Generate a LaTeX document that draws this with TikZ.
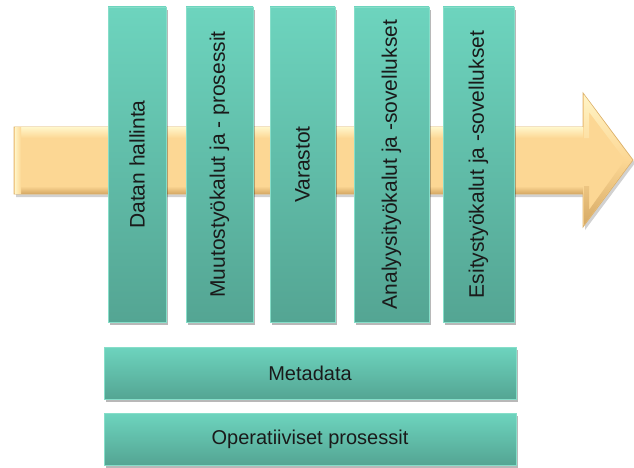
\documentclass[tikz,border=0pt]{standalone}
\usepackage{fontspec}
\setmainfont{Liberation Sans}
\usetikzlibrary{shadows}

\definecolor{tealTop}{HTML}{6DD4BE}
\definecolor{tealBot}{HTML}{54A593}
\definecolor{tealEdge}{HTML}{86DEC9}
\definecolor{arrowBody}{HTML}{FCD794}
\definecolor{arrowLight}{HTML}{FFF4C6}
\definecolor{arrowDark}{HTML}{D6AA66}
\definecolor{arrowEdge}{HTML}{DDB470}
\definecolor{txt}{HTML}{1A1A1A}

\tikzset{
  tealbox/.style={draw=tealEdge, line width=0.8pt, top color=tealTop, bottom color=tealBot,
    inner sep=0pt, outer sep=0pt,
    drop shadow={shadow xshift=1.5pt, shadow yshift=-3pt, opacity=0.28, fill=black}},
  vlabel/.style={rotate=90, text=txt, font=\fontsize{21}{24}\selectfont},
  hlabel/.style={text=txt, font=\fontsize{20}{24}\selectfont},
}

\begin{document}
\begin{tikzpicture}[x=1pt, y=-1pt]
  \useasboundingbox (0,0) rectangle (634,468);

  % big flow arrow behind the columns
  \fill[black, opacity=0.18] (16,130) -- (585,130) -- (585,96) -- (635,163) -- (585,230) -- (585,197) -- (16,197) -- cycle;
  \fill[arrowBody, draw=arrowEdge, line width=0.8pt]
    (14,127) -- (583,127) -- (583,93) -- (633,160) -- (583,227) -- (583,194) -- (14,194) -- cycle;
  % bevel: light upper band, dark lower band
  \shade[top color=arrowLight, bottom color=arrowBody] (15,128) rectangle (583,138);
  \shade[top color=arrowBody, bottom color=arrowDark] (15,186) rectangle (583,193.5);
  \shade[left color=arrowLight, right color=arrowBody] (15,128) rectangle (21,193);
  \shade[top color=arrowLight, bottom color=arrowBody] (584,95) -- (632,160) -- (625,160) -- (589,112) -- (589,138) -- (584,138) -- cycle;
  \shade[top color=arrowBody, bottom color=arrowDark] (584,186) -- (589,186) -- (589,210) -- (625,160) -- (632,160) -- (584,225) -- cycle;

  % vertical columns
  \node[tealbox, minimum width=58pt, minimum height=315pt] (b1) at (137,164.5) {};
  \node[tealbox, minimum width=67pt, minimum height=315pt] (b2) at (219.5,164.5) {};
  \node[tealbox, minimum width=65pt, minimum height=315pt] (b3) at (302.5,164.5) {};
  \node[tealbox, minimum width=75pt, minimum height=315pt] (b4) at (391.5,164.5) {};
  \node[tealbox, minimum width=71pt, minimum height=315pt] (b5) at (478.5,164.5) {};

  \node[vlabel] (t1) at (b1) {Datan hallinta};
  \node[vlabel] (t2) at (b2) {Muutostyökalut ja - prosessit};
  \node[vlabel] (t3) at (b3) {Varastot};
  \node[vlabel] (t4) at (b4) {Analyysityökalut ja -sovellukset};
  \node[vlabel] (t5) at (b5) {Esitystyökalut ja -sovellukset};

  % horizontal bars
  \node[tealbox, minimum width=412pt, minimum height=52pt] (meta) at (310,373) {};
  \node[hlabel] (tmeta) at (meta) {Metadata};
  \node[tealbox, minimum width=412pt, minimum height=52pt] (oper) at (310,439) {};
  \node[hlabel] (toper) at (oper) {Operatiiviset prosessit};
\end{tikzpicture}
\end{document}
